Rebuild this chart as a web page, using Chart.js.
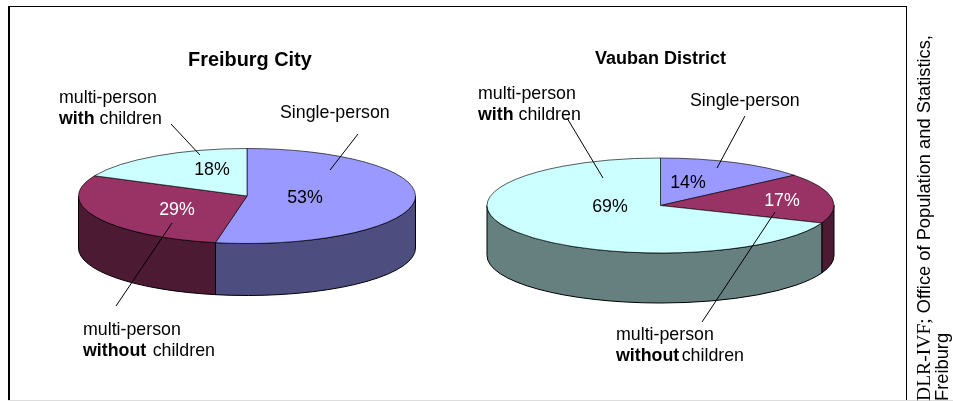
<!DOCTYPE html>
<html><head><meta charset="utf-8">
<script src="https://cdn.jsdelivr.net/npm/chart.js@4/dist/chart.umd.min.js"></script>
<style>
html,body{margin:0;padding:0;background:#fff}
#page{position:relative;width:953px;height:401px;overflow:hidden;font-family:"Liberation Sans",Arial,sans-serif;color:#000}
canvas{position:absolute}
.t{position:absolute;white-space:nowrap;font-size:17.8px;line-height:21px}
b{font-weight:bold}
#frame{position:absolute;left:8px;top:6px;width:899px;height:400px;border-style:solid;border-color:#000;border-width:1.5px 1.5px 0 2px;box-sizing:border-box}
#base{position:absolute;left:8px;top:400px;width:945px;height:1px;background:#ddd}
#lines{position:absolute;left:0;top:0}
#side{position:absolute;left:915px;top:401px;transform-origin:0 0;transform:rotate(-90deg);white-space:nowrap;font-size:18.3px;line-height:18px}
#side .times{font-family:"Liberation Serif","Times New Roman",serif;font-size:19.6px}
</style></head><body>
<div id="page">
<div id="frame"></div><div id="base"></div>
<canvas id="cityChart"></canvas>
<canvas id="vaubanChart"></canvas>
<svg id="lines" width="953" height="401" stroke="#000" stroke-width="1">
<line x1="171" y1="124" x2="200" y2="155"/>
<line x1="358" y1="134" x2="330" y2="170"/>
<line x1="172" y1="223" x2="116" y2="306"/>
<line x1="567" y1="118" x2="603" y2="178"/>
<line x1="745" y1="116" x2="717" y2="168"/>
<line x1="775" y1="212" x2="702" y2="322"/>
</svg>
<div class="t" style="left:188px;top:49px;font-size:19.9px;font-weight:bold">Freiburg City</div>
<div class="t" style="left:595px;top:48px;font-size:18px;font-weight:bold">Vauban District</div>
<div class="t" style="left:59px;top:87px">multi-person<br><b>with</b> children</div>
<div class="t" style="left:280px;top:102px">Single-person</div>
<div class="t" style="left:83px;top:319px;word-spacing:1.5px">multi-person<br><b>without</b> children</div>
<div class="t" style="left:478px;top:83px">multi-person<br><b>with</b> children</div>
<div class="t" style="left:690px;top:90px">Single-person</div>
<div class="t" style="left:616px;top:324px">multi-person<br><b>without</b><span style="margin-left:2.5px">children</span></div>
<div id="side"><span class="times">DLR-IVF;</span> Office of Population and Statistics,<br>Freiburg</div>
</div>
<script>
const categories = ['Single-person', 'multi-person without children', 'multi-person with children'];
const freiburgValues = [53, 29, 18];
const vaubanValues = [14, 17, 69];
const topColors = ['#9999FF', '#993366', '#CCFFFF'];
const sideColors = ['#4D4D80', '#4D1A33', '#668080'];
const percentColors = ['#000', '#fff', '#000'];

const pie3d = {
  id: 'pie3d',
  beforeDatasetsDraw(chart, args, o) {
    const ctx = chart.ctx, arcs = chart.getDatasetMeta(0).data;
    const cx = arcs[0].x, cy = arcs[0].y, r = arcs[0].outerRadius, ry = r * o.squash;
    // extruded wall: the front half of each library arc, dropped by the depth
    arcs.forEach((a, i) => {
      const a0 = Math.max(a.startAngle, 0), a1 = Math.min(a.endAngle, Math.PI);
      if (a1 <= a0) return;
      ctx.beginPath();
      ctx.ellipse(cx, cy, r, ry, 0, a0, a1);
      ctx.lineTo(cx + r * Math.cos(a1), cy + ry * Math.sin(a1) + o.depth);
      ctx.ellipse(cx, cy + o.depth, r, ry, 0, a1, a0, true);
      ctx.closePath();
      ctx.fillStyle = sideColors[i];
      ctx.fill();
      ctx.strokeStyle = '#000';
      ctx.lineWidth = 1;
      ctx.stroke();
    });
    ctx.save();
    ctx.translate(cx, cy);
    ctx.scale(1, o.squash);
    ctx.translate(-cx, -cy);
  },
  afterDatasetsDraw(chart, args, o) {
    const ctx = chart.ctx;
    ctx.restore();
    ctx.save();
    ctx.font = '17.8px "Liberation Sans", Arial, sans-serif';
    ctx.textAlign = 'center';
    ctx.textBaseline = 'middle';
    chart.data.datasets[0].data.forEach((v, i) => {
      ctx.fillStyle = percentColors[i];
      ctx.fillText(v + '%', o.labelAt[i][0], o.labelAt[i][1]);
    });
    ctx.restore();
  }
};

function makePie(id, left, top, w, h, values, radius, squash, depth, labelAt) {
  const el = document.getElementById(id);
  el.width = w; el.height = h;
  el.style.left = left + 'px'; el.style.top = top + 'px';
  return new Chart(el, {
    type: 'pie',
    data: { labels: categories, datasets: [{ data: values, backgroundColor: topColors, borderColor: '#000', borderWidth: 1, borderAlign: 'center' }] },
    options: {
      responsive: false, animation: false, radius: radius,
      layout: { padding: 0 },
      plugins: { legend: { display: false }, tooltip: { enabled: false }, title: { display: false },
        pie3d: { squash, depth, labelAt } }
    },
    plugins: [pie3d]
  });
}
makePie('cityChart', 0, 0, 494, 392, freiburgValues, 168.5, 47.5 / 168.5, 52,
  [[305, 198], [177, 210], [212, 170]]);
makePie('vaubanChart', 477, 10, 367, 391, vaubanValues, 173.5, 47.5 / 173.5, 50,
  [[211, 173], [305, 191], [133, 197]]);
</script>
</body></html>
